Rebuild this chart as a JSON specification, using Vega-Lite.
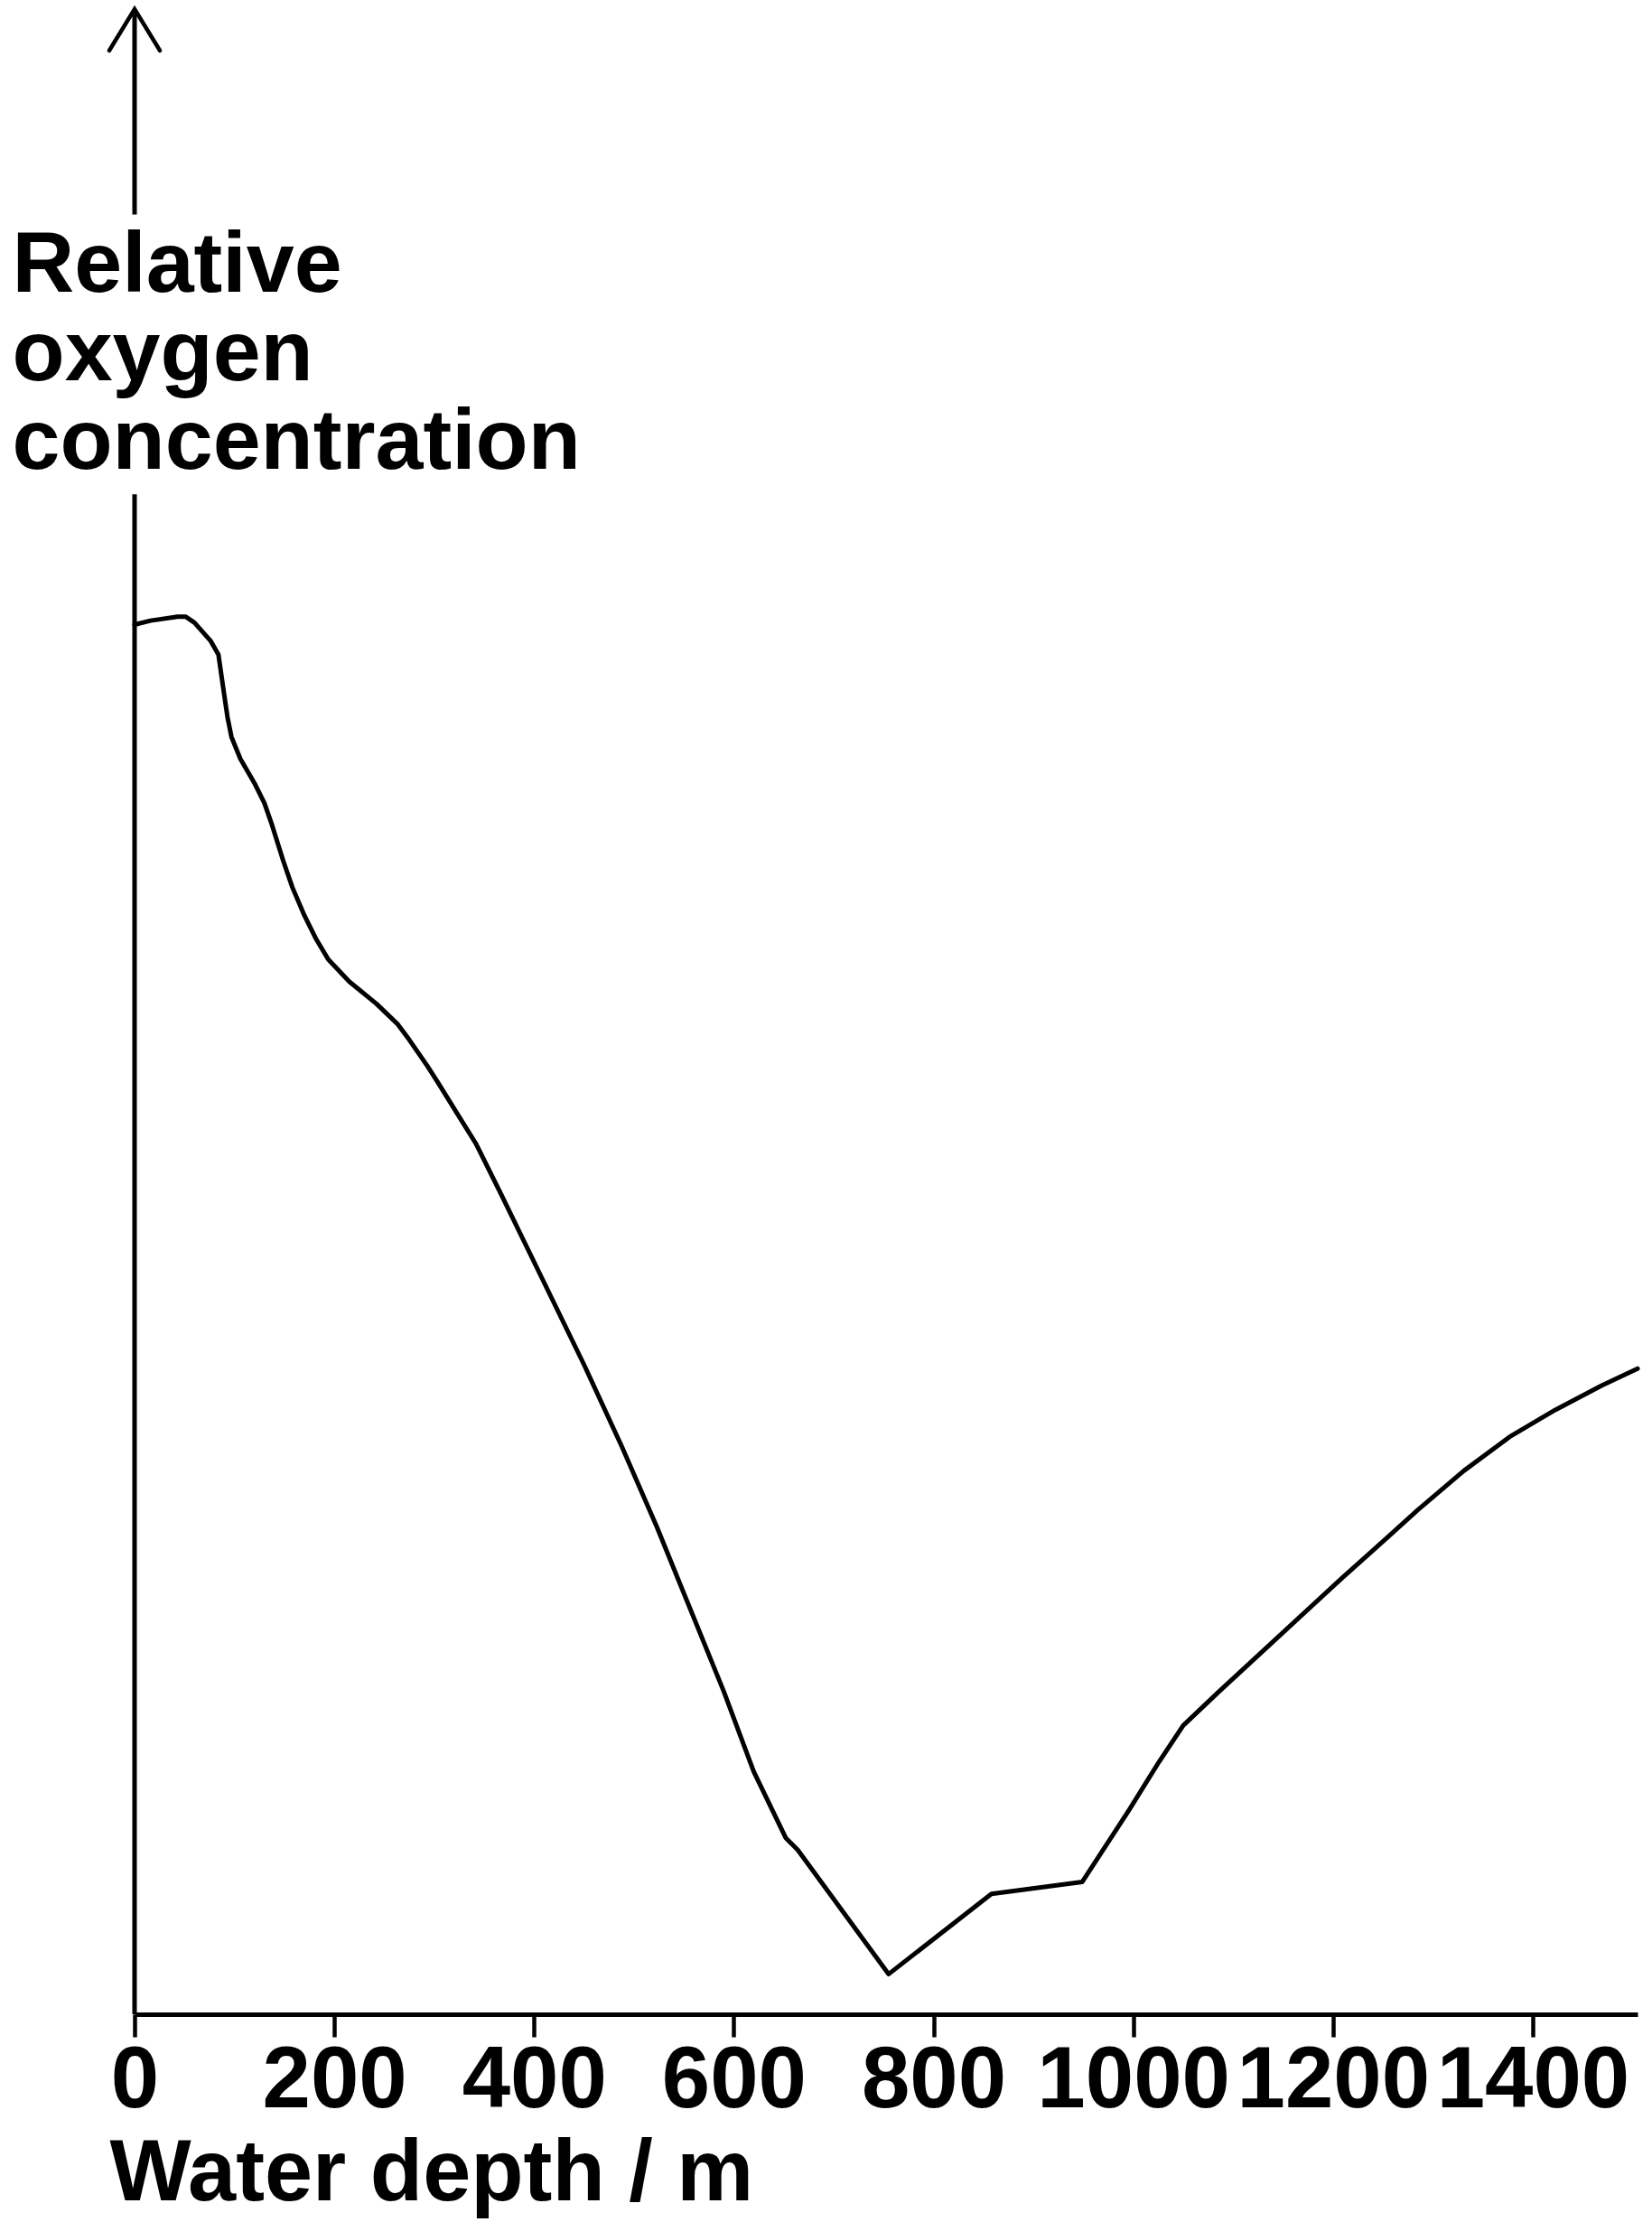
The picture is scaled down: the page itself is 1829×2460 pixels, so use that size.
{
  "$schema": "https://vega.github.io/schema/vega-lite/v6.json",
  "width": 1664,
  "height": 2220,
  "autosize": {"type": "none"},
  "padding": {"left": 149, "top": 10, "right": 16, "bottom": 230},
  "background": "white",
  "config": {"view": {"stroke": null}, "axis": {"grid": false}},
  "datasets": {
    "profile": [
      {"depth": 0, "oxygen": 69.3},
      {"depth": 16, "oxygen": 69.5},
      {"depth": 43, "oxygen": 69.7},
      {"depth": 51, "oxygen": 69.7},
      {"depth": 60, "oxygen": 69.4},
      {"depth": 76, "oxygen": 68.5},
      {"depth": 84, "oxygen": 67.8},
      {"depth": 88, "oxygen": 66.4},
      {"depth": 93, "oxygen": 64.7},
      {"depth": 97, "oxygen": 63.7},
      {"depth": 106, "oxygen": 62.6},
      {"depth": 120, "oxygen": 61.4},
      {"depth": 130, "oxygen": 60.4},
      {"depth": 137, "oxygen": 59.4},
      {"depth": 149, "oxygen": 57.5},
      {"depth": 158, "oxygen": 56.2},
      {"depth": 170, "oxygen": 54.8},
      {"depth": 182, "oxygen": 53.6},
      {"depth": 194, "oxygen": 52.6},
      {"depth": 215, "oxygen": 51.5},
      {"depth": 242, "oxygen": 50.4},
      {"depth": 263, "oxygen": 49.4},
      {"depth": 275, "oxygen": 48.6},
      {"depth": 293, "oxygen": 47.3},
      {"depth": 304, "oxygen": 46.45},
      {"depth": 342, "oxygen": 43.4},
      {"depth": 367, "oxygen": 40.9},
      {"depth": 409, "oxygen": 36.6},
      {"depth": 450, "oxygen": 32.4},
      {"depth": 488, "oxygen": 28.3},
      {"depth": 523, "oxygen": 24.3},
      {"depth": 590, "oxygen": 16.1},
      {"depth": 620, "oxygen": 12.1},
      {"depth": 652, "oxygen": 8.8},
      {"depth": 664, "oxygen": 8.2},
      {"depth": 755, "oxygen": 2.0},
      {"depth": 858, "oxygen": 6.0},
      {"depth": 949, "oxygen": 6.6},
      {"depth": 996, "oxygen": 10.2},
      {"depth": 1026, "oxygen": 12.6},
      {"depth": 1050, "oxygen": 14.4},
      {"depth": 1086, "oxygen": 16.1},
      {"depth": 1160, "oxygen": 19.5},
      {"depth": 1209, "oxygen": 21.75},
      {"depth": 1255, "oxygen": 23.8},
      {"depth": 1285, "oxygen": 25.15},
      {"depth": 1331, "oxygen": 27.1},
      {"depth": 1377, "oxygen": 28.8},
      {"depth": 1423, "oxygen": 30.15},
      {"depth": 1469, "oxygen": 31.35},
      {"depth": 1505, "oxygen": 32.2}
    ],
    "yaxis": [
      {"from": 0, "to": 75.8},
      {"from": 89.75, "to": 100}
    ]
  },
  "layer": [
    {
      "data": {"name": "profile"},
      "mark": {"type": "line", "color": "black", "strokeWidth": 5, "strokeJoin": "round", "strokeCap": "round"},
      "encoding": {
        "x": {
          "field": "depth",
          "type": "quantitative",
          "scale": {"domain": [0, 1505], "nice": false, "zero": false},
          "axis": {
            "values": [0, 200, 400, 600, 800, 1000, 1200, 1400],
            "format": "d",
            "domain": true,
            "domainColor": "black",
            "domainWidth": 5,
            "ticks": true,
            "tickColor": "black",
            "tickWidth": 4.5,
            "tickSize": 25,
            "labelFont": "Liberation Sans",
            "labelFontWeight": "bold",
            "labelFontSize": 96,
            "labelColor": "black",
            "labelBaseline": "alphabetic",
            "labelPadding": 77,
            "labelLimit": 0,
            "labelFlush": false,
            "labelOverlap": false,
            "labelBound": false,
            "title": "Water depth / m",
            "titleFont": "Liberation Sans",
            "titleFontWeight": "bold",
            "titleFontSize": 95.5,
            "titleColor": "black",
            "titleAnchor": "start",
            "titleAlign": "left",
            "titleBaseline": "alphabetic",
            "titleX": -28,
            "titleY": 205
          }
        },
        "y": {
          "field": "oxygen",
          "type": "quantitative",
          "scale": {"domain": [0, 100], "nice": false},
          "axis": {
            "domain": false,
            "ticks": false,
            "labels": false,
            "title": ["Relative", "oxygen", "concentration"],
            "titleFont": "Liberation Sans",
            "titleFontWeight": "bold",
            "titleFontSize": 95.2,
            "titleColor": "black",
            "titleAngle": 0,
            "titleAlign": "left",
            "titleBaseline": "alphabetic",
            "titleLineHeight": 98,
            "titleX": -136,
            "titleY": 312
          }
        }
      }
    },
    {
      "data": {"name": "yaxis"},
      "mark": {"type": "rule", "color": "black", "strokeWidth": 5},
      "encoding": {
        "x": {"datum": 0, "type": "quantitative"},
        "y": {"field": "from", "type": "quantitative"},
        "y2": {"field": "to"}
      }
    },
    {
      "data": {"values": [{}]},
      "mark": {"type": "point", "shape": "M -0.61 1 L 0 0 L 0.61 1", "filled": false, "size": 8464, "stroke": "black", "strokeWidth": 4.5, "opacity": 1, "strokeCap": "round", "strokeJoin": "miter"},
      "encoding": {
        "x": {"datum": 0, "type": "quantitative"},
        "y": {"datum": 100, "type": "quantitative"}
      }
    }
  ]
}
